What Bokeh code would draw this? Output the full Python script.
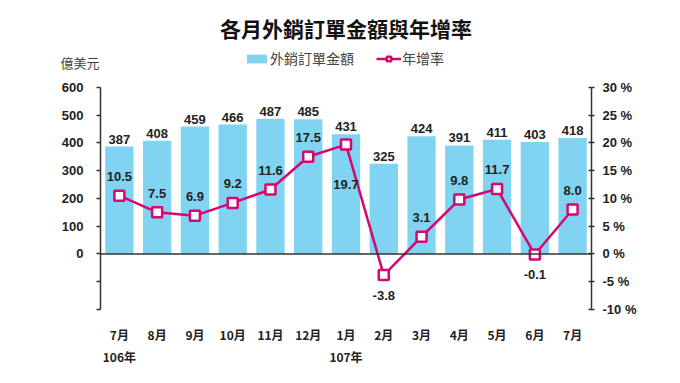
from bokeh.plotting import figure
from bokeh.models import (Range1d, LinearAxis, FixedTicker, Span, Legend,
                          LegendItem, ColumnDataSource)
from bokeh.embed import file_html
from bokeh.resources import INLINE
from bokeh.core.properties import value

# ---------------- data ----------------
months = ["7月", "8月", "9月", "10月", "11月", "12月", "1月", "2月", "3月", "4月", "5月", "6月", "7月"]
year_labels = {0: "106年", 6: "107年"}
orders = [387, 408, 459, 466, 487, 485, 431, 325, 424, 391, 411, 403, 418]   # 億美元
growth = [10.5, 7.5, 6.9, 9.2, 11.6, 17.5, 19.7, -3.8, 3.1, 9.8, 11.7, -0.1, 8.0]  # %
left_ticks = [-200, -100, 0, 100, 200, 300, 400, 500, 600]
right_ticks = [-10, -5, 0, 5, 10, 15, 20, 25, 30]
title_text = "各月外銷訂單金額與年增率"
unit_text = "億美元"
series_names = ["外銷訂單金額", "年增率"]

# ---------------- style / layout ----------------
BAR = "#80d4f1"
MAG = "#d4086e"
AXIS = "#333333"
NUM = "Liberation Sans"
CJK = "Noto Sans CJK TC"

W, H = 664, 367
F_LEFT, F_RIGHT, F_TOP, F_BOTTOM = 100, 591, 44, 316      # frame edges (px)
AX_TOP_PX = 88                                            # where 600 / 30 % sit
L_MIN, L_MAX = left_ticks[0], left_ticks[-1]
R_MIN, R_MAX = right_ticks[0], right_ticks[-1]
ext = (AX_TOP_PX - F_TOP) / (F_BOTTOM - AX_TOP_PX)        # extra headroom fraction
left_end = L_MAX + (L_MAX - L_MIN) * ext
right_end = R_MAX + (R_MAX - R_MIN) * ext
unit_px = 62
unit_val = round(L_MAX + (AX_TOP_PX - unit_px) * (L_MAX - L_MIN) / (F_BOTTOM - AX_TOP_PX))

xs = list(range(len(months)))
rate_dy = []
for i, g in enumerate(growth):
    if i == 6:
        rate_dy.append(40)
    elif g < 0:
        rate_dy.append(20)
    else:
        rate_dy.append(-19)

src = ColumnDataSource(dict(
    x=xs, orders=orders, growth=growth,
    order_txt=[str(v) for v in orders],
    growth_txt=[f"{v:.1f}" for v in growth],
    dy=rate_dy,
))

p = figure(width=W, height=H,
           x_range=Range1d(-0.5, len(months) - 0.5), y_range=Range1d(L_MIN, left_end),
           output_backend="svg", toolbar_location=None,
           x_axis_type=None, y_axis_type=None,
           min_border_left=F_LEFT, min_border_right=W - F_RIGHT,
           min_border_top=F_TOP, min_border_bottom=H - F_BOTTOM,
           title=title_text)
p.extra_y_ranges = {"pct": Range1d(R_MIN, right_end)}
p.outline_line_color = None
p.background_fill_color = "white"
p.border_fill_color = "white"

p.title.align = "center"
p.title.text_font = CJK
p.title.text_font_size = "21px"
p.title.text_font_style = "bold"
p.title.text_color = "#111111"
p.title.standoff = 4

bars = p.vbar(x="x", top="orders", width=0.75, source=src,
              fill_color=BAR, line_color=None)

p.add_layout(Span(location=0, dimension="width", line_color=AXIS, line_width=1.5))

line = p.line("x", "growth", y_range_name="pct", source=src,
              line_color=MAG, line_width=2.5)
pts = p.scatter("x", "growth", y_range_name="pct", source=src, marker="square",
                size=10, fill_color="white", line_color=MAG, line_width=2.5)

# value labels
p.text("x", "orders", text="order_txt", source=src, text_align="center",
       text_baseline="bottom", y_offset=-3, text_font=value(NUM),
       text_font_size="13px", text_font_style="bold", text_color="#222222")
p.text("x", "growth", text="growth_txt", source=src, y_range_name="pct",
       text_align="center", text_baseline="middle", y_offset="dy",
       text_font=value(NUM), text_font_size="13px", text_font_style="bold",
       text_color="#222222")

# axes
def style_axis(ax):
    ax.axis_line_color = AXIS
    ax.axis_line_width = 1.5
    ax.major_tick_line_color = AXIS
    ax.major_tick_line_width = 1.5
    ax.minor_tick_line_color = None
    ax.major_label_text_font = NUM
    ax.major_label_text_font_size = "13px"
    ax.major_label_text_font_style = "bold"
    ax.major_label_text_color = "#222222"

left = LinearAxis(ticker=FixedTicker(ticks=left_ticks), bounds=(L_MIN, L_MAX),
                  major_label_overrides={t: ("" if t < 0 else str(t)) for t in left_ticks})
style_axis(left)
left.major_tick_in = 0
left.major_tick_out = 4
left.major_label_standoff = 13
p.add_layout(left, "left")

# unit caption: a single tick label on an otherwise invisible left axis
unit_axis = LinearAxis(ticker=FixedTicker(ticks=[unit_val]),
                       major_label_overrides={unit_val: unit_text},
                       major_label_standoff=-41, axis_line_color=None,
                       major_tick_line_color=None, minor_tick_line_color=None,
                       major_tick_in=0, major_tick_out=0,
                       major_label_text_font=CJK, major_label_text_font_size="13px",
                       major_label_text_color="#444444")
p.add_layout(unit_axis, "left")

right = LinearAxis(y_range_name="pct", ticker=FixedTicker(ticks=right_ticks),
                   bounds=(R_MIN, R_MAX),
                   major_label_overrides={t: f"{t} %" for t in right_ticks})
style_axis(right)
right.major_tick_in = 3
right.major_tick_out = 3
right.major_label_standoff = 8
p.add_layout(right, "right")

bottom = LinearAxis(ticker=FixedTicker(ticks=xs),
                    major_label_overrides={i: m for i, m in enumerate(months)})
style_axis(bottom)
bottom.axis_line_color = None
bottom.major_tick_line_color = None
bottom.major_tick_in = 0
bottom.major_tick_out = 0
bottom.major_label_standoff = 16
bottom.major_label_text_font = CJK
bottom.major_label_text_font_size = "12px"
p.add_layout(bottom, "below")

years = LinearAxis(ticker=FixedTicker(ticks=list(year_labels.keys())),
                   major_label_overrides=year_labels)
style_axis(years)
years.axis_line_color = None
years.major_tick_line_color = None
years.major_tick_in = 0
years.major_tick_out = 0
years.major_label_standoff = 2
years.major_label_text_font = CJK
years.major_label_text_font_size = "12px"
p.add_layout(years, "below")

legend = Legend(items=[LegendItem(label=series_names[0], renderers=[bars]),
                       LegendItem(label=series_names[1], renderers=[line, pts])],
                location=(144, F_BOTTOM - 75), orientation="horizontal",
                border_line_color=None, background_fill_alpha=0,
                padding=0, margin=0, spacing=22, label_standoff=1,
                glyph_width=25, glyph_height=11, label_height=16,
                label_text_font=CJK, label_text_font_size="14px",
                label_text_color="#444444")
p.add_layout(legend, "center")

open("out.html", "w").write(file_html(p, INLINE))
